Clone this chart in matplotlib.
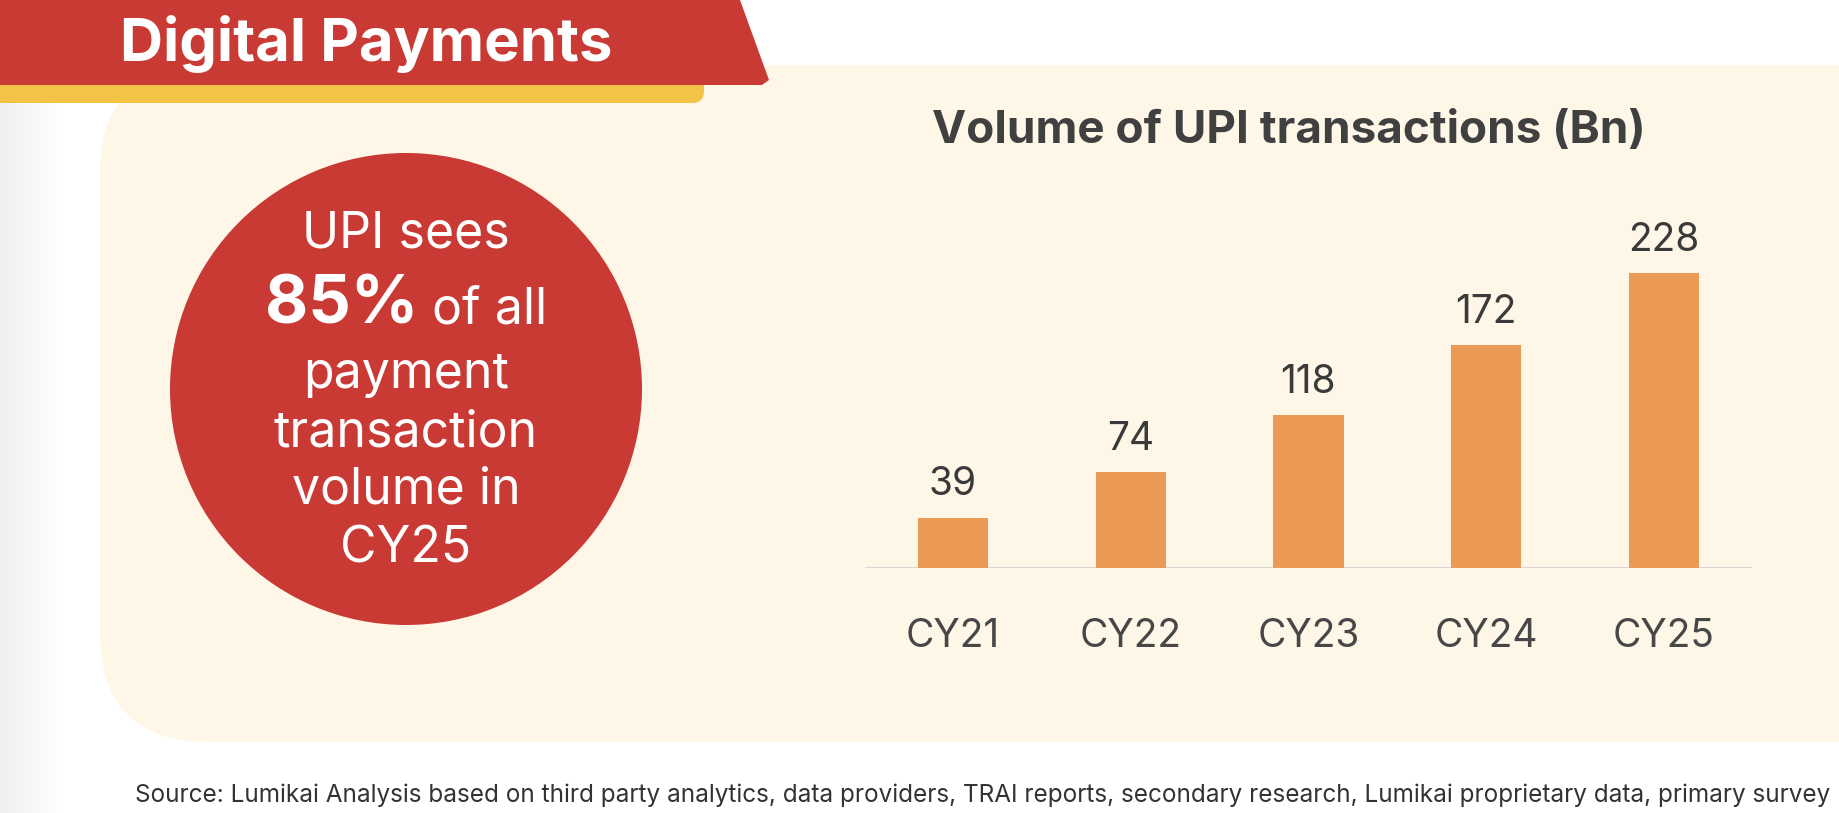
import matplotlib.pyplot as plt
from matplotlib.patches import Circle, FancyBboxPatch, Polygon
import numpy as np

plt.rcParams['font.family'] = ['Inter', 'DejaVu Sans']

years = ["CY21", "CY22", "CY23", "CY24", "CY25"]
upi_volume = [39, 74, 118, 172, 228]

banner_title = "Digital Payments"
chart_title = "Volume of UPI transactions (Bn)"
callout_top = "UPI sees"
callout_big = "85%"
callout_rest = ["payment", "transaction", "volume in", "CY25"]
source = ("Source: Lumikai Analysis based on third party analytics, data providers, TRAI reports, "
          "secondary research, Lumikai proprietary data, primary survey")

W, H = 1840, 813
fig = plt.figure(figsize=(W / 100, H / 100), dpi=100)
fig.patch.set_facecolor("white")

# background layer in pixel coordinates (y down)
bg = fig.add_axes([0, 0, 1, 1])
bg.set_xlim(0, W)
bg.set_ylim(H, 0)
bg.axis("off")

# faint grey strip on the left edge
grad = np.linspace(0.94, 1.0, 60)[None, :]
bg.imshow(np.dstack([grad, grad, grad]), extent=(0, 60, H, 0), aspect="auto", zorder=0)

cream = "#FEF7E7"
red = "#C93A35"
bg.add_patch(FancyBboxPatch((100, 65), 1900, 677, boxstyle="round,pad=0,rounding_size=110",
                            fc=cream, ec="none", zorder=1))
bg.add_patch(FancyBboxPatch((-30, 70), 734, 33, boxstyle="round,pad=0,rounding_size=12",
                            fc="#F3C346", ec="none", zorder=2))
bg.add_patch(Polygon([(0, 0), (740, 0), (769, 80), (762, 85), (0, 85)], closed=True,
                     fc=red, ec="none", zorder=3))
bg.text(366, 61, banner_title, color="white", fontsize=43, fontweight="bold",
        ha="center", va="baseline", zorder=4)

# red callout circle
cx, cy = 406, 389
bg.add_patch(Circle((cx, cy), 236, fc=red, ec="none", zorder=2))
bg.text(cx, 247, callout_top, color="white", fontsize=36, ha="center", va="baseline", zorder=4)

t_big = bg.text(0, 323, callout_big, color="white", fontsize=48, fontweight="bold",
                ha="left", va="baseline", zorder=4)
t_rest = bg.text(0, 323, " of all", color="white", fontsize=36,
                 ha="left", va="baseline", zorder=4)
r = fig.canvas.get_renderer()
w_big = t_big.get_window_extent(r).width
w_rest = t_rest.get_window_extent(r).width
x0 = cx - (w_big + w_rest) / 2
t_big.set_x(x0)
t_rest.set_x(x0 + w_big)

for line, yb in zip(callout_rest, [388, 446, 503, 562]):
    bg.text(cx, yb, line, color="white", fontsize=36, ha="center", va="baseline", zorder=4)

bg.text(1289, 143, chart_title, color="#404040", fontsize=33, fontweight="bold",
        ha="center", va="baseline", zorder=4)

bg.text(135, 802, source, color="#333333", fontsize=17.5, ha="left", va="baseline", zorder=4)

# bar chart
ax = fig.add_axes([865 / W, 1 - 568 / H, 887 / W, 368 / H])
ax.set_facecolor("none")
x = np.arange(len(years))
ax.bar(x, upi_volume, width=0.394, color="#EA9A55", zorder=3)
ax.axhline(0, color="#D8D8D8", lw=1.5, zorder=2)
ax.set_xlim(-0.495, 4.495)
ax.set_ylim(0, 284.4)
for xi, v in zip(x, upi_volume):
    ax.annotate(str(v), (xi, v), xytext=(0, 16), textcoords="offset points",
                ha="center", va="baseline", fontsize=28, color="#3A3A3A")
ax.set_xticks(x)
ax.set_xticklabels(years, fontsize=28, color="#474747")
ax.tick_params(axis="x", length=0, pad=36)
ax.set_yticks([])
for s in ax.spines.values():
    s.set_visible(False)

fig.savefig("out.png", dpi=100)
